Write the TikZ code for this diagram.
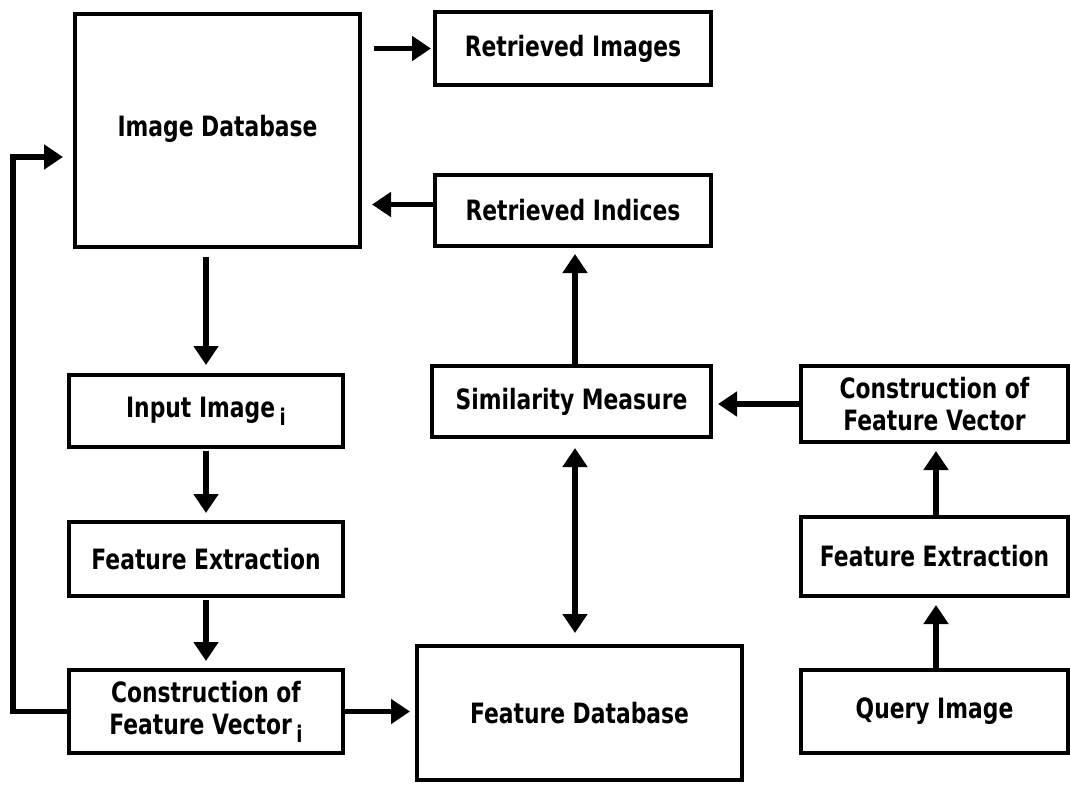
\documentclass[tikz,border=0pt]{standalone}
\usepackage{fontspec}
\setmainfont[FakeStretch=0.78]{DejaVu Sans}
\usetikzlibrary{arrows.meta}
\newcommand{\subi}{\,\raisebox{-8pt}{\fontsize{23}{23}\selectfont i}}
\begin{document}
\begin{tikzpicture}[x=1pt,y=-1pt,
  box/.style={draw=black,line width=4pt,fill=white,rectangle,inner sep=0pt,align=center,
    font=\fontsize{28}{32}\selectfont\bfseries},
  arr/.style={line width=5.5pt,-{Triangle[length=19pt,width=24pt]}},
  darr/.style={line width=5.5pt,{Triangle[length=19pt,width=24pt]}-{Triangle[length=19pt,width=24pt]}}]
\path[fill=white,use as bounding box] (0,0) rectangle (1070,784);
% boxes
\node[box,minimum width=285pt,minimum height=233pt] (imgdb) at (217.5,130.5) {\raisebox{10pt}{Image Database}};
\node[box,minimum width=276pt,minimum height=73pt] (retimg) at (573,48.5) {Retrieved Images};
\node[box,minimum width=276pt,minimum height=71pt] (retidx) at (573,210.5) {Retrieved Indices};
\node[box,minimum width=274pt,minimum height=72pt] (input) at (206,411) {Input Image\subi};
\node[box,minimum width=274pt,minimum height=74pt] (fe1) at (206,559) {Feature Extraction};
\node[box,minimum width=274pt,minimum height=83pt] (cfv1) at (206,711.5) {Construction of\\Feature Vector\subi};
\node[box,minimum width=279pt,minimum height=71pt] (sim) at (571.5,401.5) {Similarity Measure};
\node[box,minimum width=325pt,minimum height=134pt] (fdb) at (579.5,713) {\raisebox{-7pt}{Feature Database}};
\node[box,minimum width=267pt,minimum height=76pt] (cfv2) at (934.5,404) {Construction of\\Feature Vector};
\node[box,minimum width=267pt,minimum height=79pt] (fe2) at (934.5,556.5) {Feature Extraction};
\node[box,minimum width=267pt,minimum height=83pt] (query) at (934.5,711.5) {Query Image};
% helper coordinates
\coordinate (loopend) at (63,157);
\coordinate (mid) at (575,0);
\coordinate (rmid) at (936,0);
% connectors
\draw[arr] ([xshift=12pt]imgdb.east |- retimg.west) -- ([xshift=-2pt]retimg.west);
\draw[arr] ([yshift=6pt]retidx.west) -- ([xshift=10pt,yshift=6pt]imgdb.east |- retidx.west);
\draw[arr] (cfv1.west) -- ([xshift=-54pt]cfv1.west) |- (loopend);
\draw[arr] ([yshift=-8pt]imgdb.south -| input.north) -- ([yshift=8pt]input.north);
\draw[arr] ([yshift=-2pt]input.south) -- ([yshift=7pt]fe1.north);
\draw[arr] ([yshift=-2pt]fe1.south) -- ([yshift=7pt]cfv1.north);
\draw[arr] (cfv1.east) -- ([xshift=-5pt]cfv1.east -| fdb.west);
\draw[darr] ([yshift=-9pt]sim.south -| mid) -- ([yshift=11pt]fdb.north -| mid);
\draw[arr] (sim.north -| mid) -- ([yshift=-6pt]retidx.south -| mid);
\draw[arr] (cfv2.west) -- ([xshift=5pt]sim.east |- cfv2.west);
\draw[arr] (fe2.north -| rmid) -- ([yshift=-7pt]cfv2.south -| rmid);
\draw[arr] (query.north -| rmid) -- ([yshift=-7pt]fe2.south -| rmid);
\end{tikzpicture}
\end{document}
